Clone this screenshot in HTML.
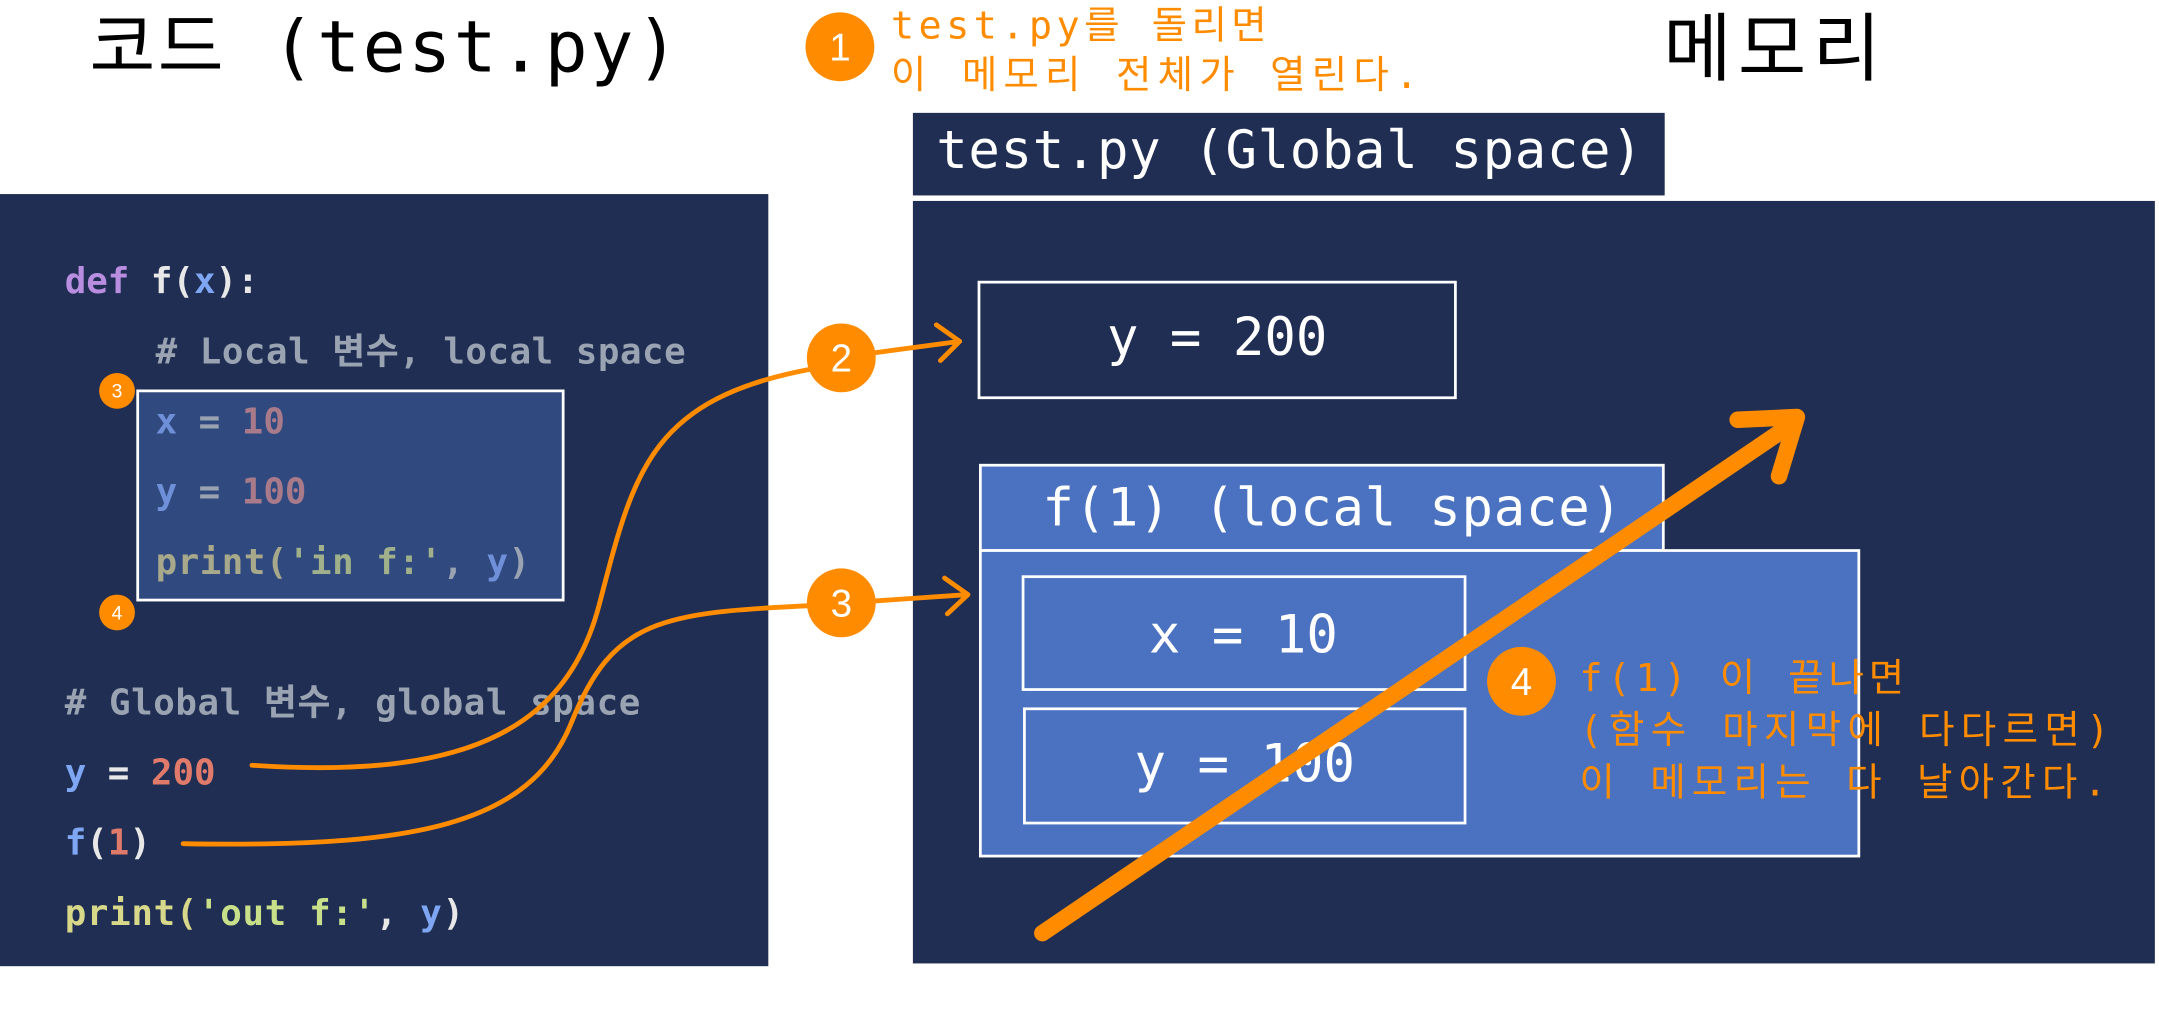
<!DOCTYPE html>
<html><head><meta charset="utf-8"><style>
html,body{margin:0;padding:0;background:#fff;width:2159px;height:1035px;overflow:hidden}
svg{display:block}
text{font-family:"DejaVu Sans Mono","Liberation Mono","Noto Sans CJK KR",monospace}
.k{font-family:"Liberation Sans","Noto Sans CJK KR",sans-serif}
</style></head><body>
<svg width="2159" height="1035" viewBox="0 0 1568 752" preserveAspectRatio="none" xmlns="http://www.w3.org/2000/svg">
<text x="65" y="52" font-size="52" fill="#000" textLength="428">코드 (test.py)</text>
<text x="1208" y="54" font-size="54" fill="#000" class="k" textLength="158">메모리</text>
<circle cx="610" cy="34" r="25" fill="#FF8C00"/>
<text x="610" y="44" font-size="28" fill="#fff" text-anchor="middle" class="k">1</text>
<text x="647" y="28" font-size="28" fill="#FF8C00" textLength="273">test.py를 돌리면</text>
<text x="647" y="64" font-size="28" fill="#FF8C00" textLength="383">이 메모리 전체가 열린다.</text>

<rect x="0" y="141" width="558" height="561" fill="#1F2E52"/>
<rect x="100" y="284" width="309" height="152" fill="#304A80" stroke="#fff" stroke-width="2"/>
<g font-size="26" font-weight="bold">
<text x="47" y="213"><tspan fill="#B98EE0">def</tspan><tspan fill="#e8e8e8"> f(</tspan><tspan fill="#7EA6F2">x</tspan><tspan fill="#e8e8e8">):</tspan></text>
<text x="113" y="264" fill="#9AA3B2" textLength="385"># Local 변수, local space</text>
<text x="113" y="315"><tspan fill="#6F8FD8">x</tspan><tspan fill="#9AA3B2"> = </tspan><tspan fill="#A87A8A">10</tspan></text>
<text x="113" y="366"><tspan fill="#6F8FD8">y</tspan><tspan fill="#9AA3B2"> = </tspan><tspan fill="#A87A8A">100</tspan></text>
<text x="113" y="417" textLength="272"><tspan fill="#A8A88A">print(</tspan><tspan fill="#9FB08A">'in f:'</tspan><tspan fill="#9AA3B2">, </tspan><tspan fill="#6F8FD8">y</tspan><tspan fill="#9AA3B2">)</tspan></text>
<text x="47" y="519" fill="#9AA3B2" textLength="418"># Global 변수, global space</text>
<text x="47" y="570"><tspan fill="#7EA6F2">y</tspan><tspan fill="#e8e8e8"> = </tspan><tspan fill="#E07A6A">200</tspan></text>
<text x="47" y="621"><tspan fill="#7EA6F2">f</tspan><tspan fill="#e8e8e8">(</tspan><tspan fill="#E07A6A">1</tspan><tspan fill="#e8e8e8">)</tspan></text>
<text x="47" y="672" textLength="290"><tspan fill="#D8D88A">print(</tspan><tspan fill="#C8E08A">'out f:'</tspan><tspan fill="#e8e8e8">, </tspan><tspan fill="#7EA6F2">y</tspan><tspan fill="#e8e8e8">)</tspan></text>
</g>
<circle cx="85" cy="284" r="13" fill="#FF8C00"/><text x="85" y="289" font-size="14" fill="#fff" text-anchor="middle" class="k">3</text>
<circle cx="85" cy="445" r="13" fill="#FF8C00"/><text x="85" y="450" font-size="14" fill="#fff" text-anchor="middle" class="k">4</text>

<rect x="663" y="82" width="546" height="60" fill="#1F2E52"/>
<text x="680" y="122" font-size="38" fill="#fff" textLength="513">test.py (Global space)</text>
<rect x="663" y="146" width="902" height="554" fill="#1F2E52"/>
<rect x="711" y="205" width="346" height="84" fill="#1F2E52" stroke="#fff" stroke-width="2"/>
<text x="884" y="258" font-size="38" fill="#fff" text-anchor="middle">y = 200</text>
<rect x="712" y="338" width="496" height="62" fill="#4A72C0" stroke="#fff" stroke-width="2"/>
<rect x="712" y="400" width="638" height="222" fill="#4A72C0" stroke="#fff" stroke-width="2"/>
<text x="757" y="382" font-size="38" fill="#fff" textLength="421">f(1) (local space)</text>
<rect x="743" y="419" width="321" height="82" fill="#4A72C0" stroke="#fff" stroke-width="2"/>
<text x="903" y="474" font-size="38" fill="#fff" text-anchor="middle">x = 10</text>
<rect x="744" y="515" width="320" height="83" fill="#4A72C0" stroke="#fff" stroke-width="2"/>
<text x="904" y="568" font-size="38" fill="#fff" text-anchor="middle">y = 100</text>

<g fill="none" stroke="#FF8C00" stroke-linecap="round" stroke-linejoin="round">
<path d="M183,556 C330,566 410,535 435,440 S470,290 590,268" stroke-width="3.5"/>
<path d="M133,613 C300,616 385,600 415,525 S480,445 590,440" stroke-width="3.5"/>
<path d="M630,257 L697,248 M680,236 L697,248 L683,262" stroke-width="3.5"/>
<path d="M630,437 L703,432 M686,420 L703,432 L688,446" stroke-width="3.5"/>
<path d="M757,678 L1303,307 M1262,305 L1305,303 L1292,346" stroke-width="12"/>
</g>
<circle cx="611" cy="260" r="25" fill="#FF8C00"/><text x="611" y="270" font-size="28" fill="#fff" text-anchor="middle" class="k">2</text>
<circle cx="611" cy="438" r="25" fill="#FF8C00"/><text x="611" y="448" font-size="28" fill="#fff" text-anchor="middle" class="k">3</text>
<circle cx="1105" cy="495" r="25" fill="#FF8C00"/><text x="1105" y="505" font-size="28" fill="#fff" text-anchor="middle" class="k">4</text>
<text x="1147" y="502" font-size="28" fill="#FF8C00" textLength="236">f(1) 이 끝나면</text>
<text x="1147" y="540" font-size="28" fill="#FF8C00" textLength="385">(함수 마지막에 다다르면)</text>
<text x="1147" y="578" font-size="28" fill="#FF8C00" textLength="383">이 메모리는 다 날아간다.</text>
</svg>
</body></html>
